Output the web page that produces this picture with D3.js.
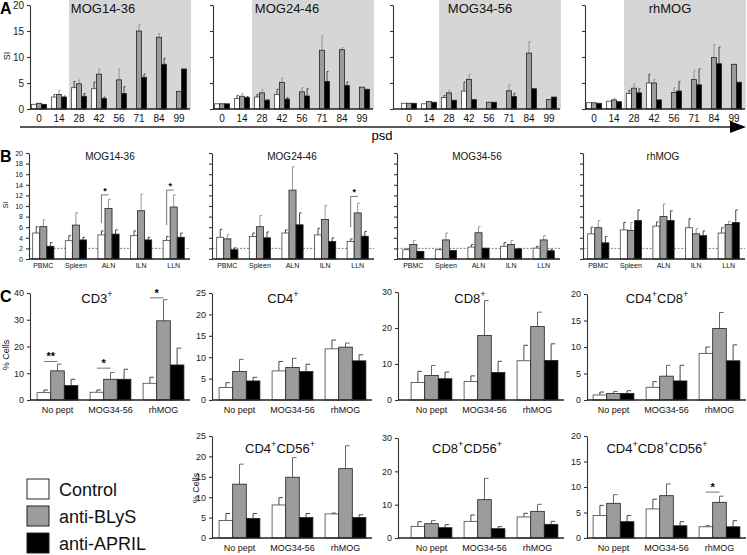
<!DOCTYPE html>
<html lang="en">
<head>
  <meta charset="UTF-8">
  <title>SI and % cells</title>
  <style>
    html, body { margin: 0; padding: 0; background: #fff; }
    svg { display: block; font-family: "Liberation Sans", Arial, sans-serif; }
    .axis path, .axis line { stroke: #333; stroke-width: 1.1; }
    .axis text { fill: #222; }
  </style>
</head>
<body>
  <script src="https://d3js.org/d3.v7.min.js"></script>
  <script>
    // categories
    const daysA = ['0', '14', '28', '42', '56', '71', '84', '99']
    const tissuesB = ['PBMC', 'Spleen', 'ALN', 'ILN', 'LLN']
    const stimC = ['No pept', 'MOG34-56', 'rhMOG']
    const groups = ['Control', 'anti-BLyS', 'anti-APRIL']

    // A: SI over time (rows = Control, anti-BLyS, anti-APRIL); *Up = top of error bar
    const siA_MOG1436 = [[0.9, 2.3, 4.1, 3.9, null, null, null, null], [1.1, 2.8, 4.85, 6.7, 5.6, 15.0, 13.8, 3.4], [0.9, 2.3, 2.45, 2.0, 3.0, 6.1, 8.6, 7.7]]
    const siA_MOG1436Up = [[null, 2.8, 5.3, 5.2, null, null, null, null], [null, 3.6, 5.6, 7.7, 7.7, 16.2, 14.5, null], [null, 2.5, 3.0, 2.3, 4.3, 6.7, 9.75, null]]
    const siA_MOG2446 = [[1.0, 2.0, 2.3, 2.8, null, null, null, null], [1.0, 2.45, 3.1, 5.1, 3.3, 11.3, 11.4, 4.2], [1.0, 2.2, 1.7, 1.9, 2.5, 5.3, 4.5, 3.8]]
    const siA_MOG2446Up = [[null, 2.6, 2.8, 3.8, null, null, null, null], [null, 3.0, 3.7, 6.0, 4.1, 14.2, 11.8, null], [null, 2.4, 1.8, 2.2, 3.9, 7.2, 5.2, null]]
    const siA_MOG3456 = [[1.1, 1.0, 2.2, 3.45, null, null, null, null], [1.1, 1.45, 3.1, 5.7, 1.3, 3.5, 10.75, 1.8], [1.1, 1.3, 1.7, 1.8, 1.3, 2.4, 3.9, 2.3]]
    const siA_MOG3456Up = [[null, null, 2.6, 5.2, null, null, null, null], [null, null, 3.6, 6.6, null, 4.7, 13.0, null], [null, null, null, null, null, 3.0, null, null]]
    const siA_rhMOG = [[1.2, 1.5, 3.0, 5.0, null, null, null, null], [1.2, 1.75, 4.0, 5.0, 3.15, 5.65, 9.9, 8.6], [1.1, 1.4, 3.1, 1.75, 3.45, 4.65, 8.7, 5.15]]
    const siA_rhMOGUp = [[null, null, 3.6, 6.7, null, null, null, null], [null, 2.0, 4.85, 5.7, 4.1, 7.4, 12.4, null], [null, null, 3.9, null, 5.3, 7.7, 11.9, null]]

    // B: SI per tissue
    const siB_MOG1436 = [[4.9, 3.45, 4.55, 4.4, 3.5], [6.1, 6.4, 9.55, 9.1, 9.8], [2.4, 3.6, 4.7, 3.6, 4.1]]
    const siB_MOG1436Up = [[6.1, 4.4, 5.3, 5.3, 4.25], [7.4, 8.75, 11.25, 12.25, 12.1], [3.1, 4.1, 5.5, 4.1, 4.9]]
    const siB_MOG2446 = [[4.1, 4.25, 4.9, 4.55, 3.3], [3.8, 6.1, 13.0, 7.45, 8.7], [1.75, 4.0, 6.45, 3.3, 4.3]]
    const siB_MOG2446Up = [[5.6, 4.9, 5.5, 5.8, 3.8], [4.6, 8.2, 17.4, 10.1, 10.55], [2.1, 5.1, 8.7, 4.0, 5.2]]
    const siB_MOG3456 = [[1.75, 1.75, 2.25, 2.4, 2.05], [2.75, 3.6, 4.95, 2.75, 3.6], [1.45, 1.6, 2.05, 1.9, 1.55]]
    const siB_MOG3456Up = [[1.9, 1.85, 2.75, 3.1, 2.4], [3.5, 4.9, 6.1, 3.5, 4.4], [null, null, null, 2.0, 1.75]]
    const siB_rhMOG = [[4.75, 5.5, 6.2, 5.9, 4.9], [5.9, 5.4, 8.0, 4.75, 6.5], [3.05, 7.25, 7.25, 4.4, 6.9]]
    const siB_rhMOGUp = [[6.0, 6.9, 7.0, 7.6, 5.9], [7.25, 6.9, 10.4, 5.7, 7.1], [4.25, 9.25, 9.1, 5.3, 9.25]]
    const sigB_MOG1436 = [{ cat: 'ALN', level: 12.1, low: 6.8, mark: '*' }, { cat: 'LLN', level: 13.0, low: 6.4, mark: '*' }]
    const sigB_MOG2446 = [{ cat: 'LLN', level: 11.8, low: 6.0, mark: '*' }]

    // C: % cells
    const pctCD3 = [[2.75, 2.9, 6.25], [10.9, 7.75, 29.6], [5.4, 7.75, 13.1]]
    const pctCD3Up = [[3.75, 3.75, 8.5], [13.4, 10.25, 37.5], [7.75, 11.5, 19.4]]
    const pctCD4 = [[2.9, 6.8, 11.95], [6.65, 7.6, 12.35], [4.45, 6.65, 9.15]]
    const pctCD4Up = [[4.05, 9.0, 14.0], [9.5, 9.75, 13.3], [5.3, 8.35, 10.55]]
    const pctCD8 = [[4.85, 5.15, 10.9], [6.8, 17.9, 20.4], [5.9, 7.65, 11.0]]
    const pctCD8Up = [[7.95, 6.7, 15.2], [9.6, 27.6, 24.4], [7.75, 10.75, 15.6]]
    const pctCD4CD8 = [[0.95, 2.4, 8.8], [1.25, 4.5, 13.5], [1.25, 3.6, 7.4]]
    const pctCD4CD8Up = [[1.5, 3.45, 10.0], [1.6, 6.55, 16.5], [1.75, 6.55, 10.4]]
    const pctCD4CD56 = [[4.3, 8.1, 5.9], [13.2, 14.9, 17.0], [4.8, 5.0, 5.0]]
    const pctCD4CD56Up = [[6.0, 9.9, 6.1], [18.1, 19.7, 22.6], [6.0, 6.0, 5.7]]
    const pctCD8CD56 = [[3.5, 5.0, 6.3], [4.3, 11.5, 8.0], [3.1, 2.8, 4.1]]
    const pctCD8CD56Up = [[4.9, 6.9, 7.4], [5.2, 17.9, 10.1], [4.0, 3.4, 5.0]]
    const pctCD4CD8CD56 = [[4.4, 5.7, 2.2], [6.8, 8.3, 7.0], [3.2, 2.4, 2.2]]
    const pctCD4CD8CD56Up = [[6.4, 7.6, 2.4], [8.5, 10.6, 8.2], [4.4, 3.2, 3.4]]
    const sigCD3 = [{ cat: 'No pept', level: 14.4, mark: '**' }, { cat: 'MOG34-56', level: 11.9, mark: '*' }, { cat: 'rhMOG', level: 38.2, mark: '*' }]
    const sigCD4CD8CD56 = [{ cat: 'rhMOG', level: 9.0, mark: '*' }]

    const fills = ['#ffffff', '#9c9c9c', '#000000']
    const font = '"Liberation Sans", Arial, sans-serif'

    const svg = d3.select('body').append('svg')
      .attr('width', 747)
      .attr('height', 555)

    const drawPanel = p => {
      const g = svg.append('g')
      const y = d3.scaleLinear().domain(p.yDomain).range(p.yRange)
      const x = d3.scaleBand().domain(p.cats).range(p.xRange)
        .paddingInner(p.padIn).paddingOuter(p.padIn / 2)
      const xs = d3.scaleBand().domain([0, 1, 2]).range([0, x.bandwidth()])

      if (p.bg) {
        g.append('rect')
          .attr('x', p.bg[0]).attr('y', 0)
          .attr('width', p.bg[1] - p.bg[0]).attr('height', y(0))
          .attr('fill', '#d6d6d6')
      }

      if (p.dash != null) {
        g.append('line')
          .attr('x1', p.axisX).attr('x2', p.xEnd)
          .attr('y1', y(p.dash)).attr('y2', y(p.dash))
          .attr('stroke', '#666').attr('stroke-width', 0.8)
          .attr('stroke-dasharray', '2,1.5')
      }

      p.means.forEach((series, si) => {
        series.forEach((v, ci) => {
          if (v == null) return
          const bx = x(p.cats[ci]) + xs(si)
          const up = p.ups[si][ci]
          if (up != null) {
            const cx = bx + xs.bandwidth() / 2
            const cap = Math.max(2, xs.bandwidth() * 0.6)
            const col = si === 1 ? p.errGray : '#333'
            g.append('line').attr('x1', cx).attr('x2', cx)
              .attr('y1', y(v)).attr('y2', y(up))
              .attr('stroke', col).attr('stroke-width', 0.9)
            g.append('line').attr('x1', cx).attr('x2', cx + cap / 2)
              .attr('y1', y(up)).attr('y2', y(up))
              .attr('stroke', col).attr('stroke-width', 0.9)
          }
          g.append('rect')
            .attr('x', bx).attr('y', y(v))
            .attr('width', xs.bandwidth()).attr('height', y(0) - y(v))
            .attr('fill', fills[si])
            .attr('stroke', si === 0 ? '#444' : '#222')
            .attr('stroke-width', 0.8)
        })
      })

      ;(p.sig || []).forEach(s => {
        const x0 = x(s.cat) + xs(0) + xs.bandwidth() / 2
        const x1 = x(s.cat) + xs(1) + xs.bandwidth() / 2
        g.append('path')
          .attr('d', s.low != null
            ? `M${x0},${y(s.low)}V${y(s.level)}H${x1}`
            : `M${x0},${y(s.level)}H${x1}`)
          .attr('fill', 'none').attr('stroke', '#555').attr('stroke-width', 0.8)
        g.append('text')
          .attr('x', (x0 + x1) / 2).attr('y', y(s.level) - 1)
          .attr('text-anchor', 'middle')
          .attr('font-size', p.sigSize || 10).attr('font-weight', 'bold')
          .text(s.mark)
      })

      const axis = d3.axisLeft(y).tickValues(p.ticks).tickSize(3).tickSizeOuter(0)
        .tickFormat(p.labels ? d3.format('d') : () => '')
      g.append('g').attr('class', 'axis')
        .attr('transform', `translate(${p.axisX},0)`)
        .call(axis)
        .call(a => a.selectAll('text').attr('font-size', p.tickSize).attr('font-family', font))

      g.append('line')
        .attr('x1', p.axisX).attr('x2', p.xEnd)
        .attr('y1', y(0)).attr('y2', y(0))
        .attr('stroke', '#222').attr('stroke-width', 1.3)

      g.selectAll('.cat').data(p.cats).enter().append('text')
        .attr('x', d => x(d) + x.bandwidth() / 2)
        .attr('y', y(0) + p.catDy)
        .attr('text-anchor', 'middle')
        .attr('font-size', p.catSize)
        .attr('fill', '#111')
        .text(d => d)

      if (p.title) {
        const t = g.append('text')
          .attr('x', p.title.x).attr('y', p.title.y)
          .attr('text-anchor', 'middle')
          .attr('font-size', p.title.size)
          .attr('fill', '#111')
        const lift = p.title.size * 0.45
        let raised = false
        p.title.parts.forEach(part => {
          t.append('tspan').attr('dy', raised ? lift : 0).text(part[0])
          raised = false
          if (part[1]) {
            t.append('tspan').attr('dy', -lift)
              .attr('font-size', p.title.size * 0.7).text('+')
            raised = true
          }
        })
      }
    }

    const yLabel = (txt, x, y, size) => {
      svg.append('text')
        .attr('transform', `translate(${x},${y}) rotate(-90)`)
        .attr('text-anchor', 'middle')
        .attr('font-size', size)
        .attr('fill', '#111')
        .text(txt)
    }

    const letter = (txt, x, y) => {
      svg.append('text').attr('x', x).attr('y', y)
        .attr('font-size', 16).attr('font-weight', 'bold').text(txt)
    }

    // Panel A
    const panelA = [
      { m: siA_MOG1436, u: siA_MOG1436Up, name: 'MOG14-36', axisX: 30, x0: 29, tx: 103 },
      { m: siA_MOG2446, u: siA_MOG2446Up, name: 'MOG24-46', axisX: 213, x0: 212, tx: 287 },
      { m: siA_MOG3456, u: siA_MOG3456Up, name: 'MOG34-56', axisX: 393, x0: 399, tx: 480 },
      { m: siA_rhMOG, u: siA_rhMOGUp, name: 'rhMOG', axisX: 585, x0: 584, tx: 670 }
    ]
    panelA.forEach((a, i) => drawPanel({
      cats: daysA, means: a.m, ups: a.u,
      yDomain: [0, 20], yRange: [109, 5], ticks: [0, 5, 10, 15, 20], labels: i === 0,
      axisX: a.axisX, xRange: [a.x0, a.x0 + 160], xEnd: a.x0 + 161, padIn: 0.25,
      bg: [a.x0 + 40, a.x0 + 162],
      tickSize: 10, catSize: 10, catDy: 13, errGray: '#8a8a8a',
      title: { x: a.tx, y: 13, size: 13, parts: [[a.name]] }
    }))
    letter('A', 0, 14)
    yLabel('SI', 10, 56, 9)

    // psd arrow
    svg.append('line').attr('x1', 20).attr('x2', 733).attr('y1', 127).attr('y2', 127)
      .attr('stroke', '#222').attr('stroke-width', 1.3)
    svg.append('path').attr('d', 'M730,121L746,127L730,133Z').attr('fill', '#000')
    svg.append('text').attr('x', 382).attr('y', 140).attr('text-anchor', 'middle')
      .attr('font-size', 13).text('psd')

    // Panel B
    const panelB = [
      { m: siB_MOG1436, u: siB_MOG1436Up, s: sigB_MOG1436, name: 'MOG14-36', axisX: 29, x0: 27, tx: 110 },
      { m: siB_MOG2446, u: siB_MOG2446Up, s: sigB_MOG2446, name: 'MOG24-46', axisX: 212, x0: 211, tx: 292 },
      { m: siB_MOG3456, u: siB_MOG3456Up, s: [], name: 'MOG34-56', axisX: 397, x0: 397, tx: 477 },
      { m: siB_rhMOG, u: siB_rhMOGUp, s: [], name: 'rhMOG', axisX: 583, x0: 582, tx: 663 }
    ]
    panelB.forEach((b, i) => drawPanel({
      cats: tissuesB, means: b.m, ups: b.u, sig: b.s, sigSize: 9,
      yDomain: [0, 20], yRange: [259, 153], ticks: d3.range(0, 21, 2), labels: i === 0,
      axisX: b.axisX, xRange: [b.x0, b.x0 + 163], xEnd: b.x0 + 163, padIn: 0.35,
      dash: 2, tickSize: 7, catSize: 7, catDy: 9, errGray: '#8a8a8a',
      title: { x: b.tx, y: 160, size: 10, parts: [[b.name]] }
    }))
    letter('B', 0, 162)
    yLabel('SI', 8, 205, 7)

    // Panel C
    const panelC = [
      { m: pctCD3, u: pctCD3Up, s: sigCD3, dom: 40, ticks: [0, 10, 20, 30, 40], axisX: 30, x0: 31, y0: 400, y1: 293, t: [['CD3', 1]], tx: 97, ty: 303 },
      { m: pctCD4, u: pctCD4Up, s: [], dom: 25, ticks: [0, 5, 10, 15, 20, 25], axisX: 212, x0: 213, y0: 400, y1: 293, t: [['CD4', 1]], tx: 283, ty: 303 },
      { m: pctCD8, u: pctCD8Up, s: [], dom: 30, ticks: [0, 10, 20, 30], axisX: 398, x0: 405, y0: 400, y1: 292, t: [['CD8', 1]], tx: 470, ty: 303 },
      { m: pctCD4CD8, u: pctCD4CD8Up, s: [], dom: 20, ticks: [0, 5, 10, 15, 20], axisX: 587, x0: 587, y0: 400, y1: 294, t: [['CD4', 1], ['CD8', 1]], tx: 657, ty: 303 },
      { m: pctCD4CD56, u: pctCD4CD56Up, s: [], dom: 25, ticks: [0, 5, 10, 15, 20, 25], axisX: 212, x0: 213, y0: 538, y1: 436, t: [['CD4', 1], ['CD56', 1]], tx: 280, ty: 453 },
      { m: pctCD8CD56, u: pctCD8CD56Up, s: [], dom: 30, ticks: [0, 10, 20, 30], axisX: 398, x0: 405, y0: 538, y1: 438, t: [['CD8', 1], ['CD56', 1]], tx: 467, ty: 453 },
      { m: pctCD4CD8CD56, u: pctCD4CD8CD56Up, s: sigCD4CD8CD56, dom: 20, ticks: [0, 5, 10, 15, 20], axisX: 587, x0: 587, y0: 538, y1: 436, t: [['CD4', 1], ['CD8', 1], ['CD56', 1]], tx: 657, ty: 453 }
    ]
    panelC.forEach(c => drawPanel({
      cats: stimC, means: c.m, ups: c.u, sig: c.s, sigSize: 11,
      yDomain: [0, c.dom], yRange: [c.y0, c.y1], ticks: c.ticks, labels: true,
      axisX: c.axisX, xRange: [c.x0, c.x0 + 159], xEnd: c.x0 + 159, padIn: 0.23,
      tickSize: 9, catSize: 9, catDy: 13, errGray: '#555',
      title: { x: c.tx, y: c.ty, size: 13, parts: c.t }
    }))
    letter('C', 0, 302)
    yLabel('% Cells', 9, 355, 9)
    yLabel('% Cells', 199, 488, 9)

    // legend
    const legend = svg.append('g')
    groups.forEach((name, i) => {
      legend.append('rect')
        .attr('x', 27).attr('y', 479 + i * 27)
        .attr('width', 22).attr('height', 20)
        .attr('fill', fills[i]).attr('stroke', '#222').attr('stroke-width', 1)
      legend.append('text')
        .attr('x', 59).attr('y', 496 + i * 27)
        .attr('font-size', 18).attr('fill', '#111')
        .text(name)
    })
  </script>
</body>
</html>
